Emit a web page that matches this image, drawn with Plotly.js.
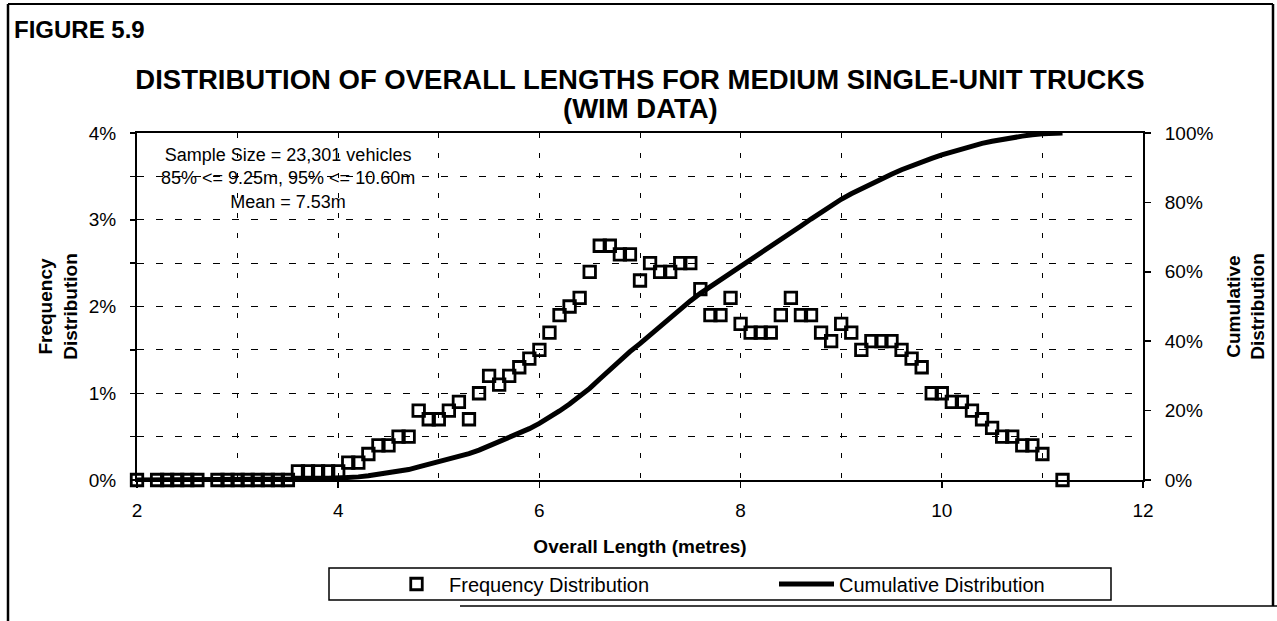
<!DOCTYPE html>
<html>
<head>
<meta charset="utf-8">
<script src="https://cdn.plot.ly/plotly-3.0.1.min.js"></script>
<style>html,body{margin:0;padding:0;background:#fff;}#chart{width:1277px;height:621px;}</style>
</head>
<body>
<div id="chart"></div>
<script>
// ---- data ----
const freqX = [2.0, 2.2, 2.3, 2.4, 2.5, 2.6, 2.8, 2.9, 3.0, 3.1, 3.2, 3.3, 3.4, 3.5,
  3.6, 3.7, 3.8, 3.9, 4.0, 4.1, 4.2, 4.3, 4.4, 4.5, 4.6, 4.7, 4.8, 4.9, 5.0,
  5.1, 5.2, 5.3, 5.4, 5.5, 5.6, 5.7, 5.8, 5.9, 6.0, 6.1, 6.2, 6.3, 6.4, 6.5,
  6.6, 6.7, 6.8, 6.9, 7.0, 7.1, 7.2, 7.3, 7.4, 7.5, 7.6, 7.7, 7.8, 7.9, 8.0,
  8.1, 8.2, 8.3, 8.4, 8.5, 8.6, 8.7, 8.8, 8.9, 9.0, 9.1, 9.2, 9.3, 9.4, 9.5,
  9.6, 9.7, 9.8, 9.9, 10.0, 10.1, 10.2, 10.3, 10.4, 10.5, 10.6, 10.7, 10.8, 10.9,
  11.0, 11.2];
const freqPct = [0, 0, 0, 0, 0, 0, 0, 0, 0, 0, 0, 0, 0, 0,
  0.1, 0.1, 0.1, 0.1, 0.1, 0.2, 0.2, 0.3, 0.4, 0.4, 0.5, 0.5, 0.8, 0.7, 0.7,
  0.8, 0.9, 0.7, 1.0, 1.2, 1.1, 1.2, 1.3, 1.4, 1.5, 1.7, 1.9, 2.0, 2.1, 2.4,
  2.7, 2.7, 2.6, 2.6, 2.3, 2.5, 2.4, 2.4, 2.5, 2.5, 2.2, 1.9, 1.9, 2.1, 1.8,
  1.7, 1.7, 1.7, 1.9, 2.1, 1.9, 1.9, 1.7, 1.6, 1.8, 1.7, 1.5, 1.6, 1.6, 1.6,
  1.5, 1.4, 1.3, 1.0, 1.0, 0.9, 0.9, 0.8, 0.7, 0.6, 0.5, 0.5, 0.4, 0.4,
  0.3, 0.0];

const cumX = [2.0, 3.5,
  3.6, 3.7, 3.8, 3.9, 4.0, 4.1, 4.2, 4.3, 4.4, 4.5, 4.6, 4.7, 4.8, 4.9, 5.0,
  5.1, 5.2, 5.3, 5.4, 5.5, 5.6, 5.7, 5.8, 5.9, 6.0, 6.1, 6.2, 6.3, 6.4, 6.5,
  6.6, 6.7, 6.8, 6.9, 7.0, 7.1, 7.2, 7.3, 7.4, 7.5, 7.6, 7.7, 7.8, 7.9, 8.0,
  8.1, 8.2, 8.3, 8.4, 8.5, 8.6, 8.7, 8.8, 8.9, 9.0, 9.1, 9.2, 9.3, 9.4, 9.5,
  9.6, 9.7, 9.8, 9.9, 10.0, 10.1, 10.2, 10.3, 10.4, 10.5, 10.6, 10.7, 10.8, 10.9,
  11.0, 11.2];
const cumPct = [0, 0,
  0.1, 0.2, 0.3, 0.4, 0.5, 0.7, 0.9, 1.2, 1.6, 2.0, 2.5, 3.0, 3.8, 4.5, 5.2,
  6.0, 6.9, 7.6, 8.6, 9.8, 10.9, 12.1, 13.4, 14.8, 16.3, 18.0, 19.9, 21.9, 24.0, 26.4,
  29.1, 31.8, 34.4, 37.0, 39.3, 41.8, 44.2, 46.6, 49.1, 51.6, 53.8, 55.7, 57.6, 59.6, 61.5,
  63.4, 65.3, 67.2, 69.2, 71.2, 73.2, 75.2, 77.2, 79.1, 80.9, 82.5, 84.0, 85.4, 86.8, 88.1,
  89.4, 90.6, 91.7, 92.7, 93.7, 94.6, 95.5, 96.3, 97.0, 97.6, 98.2, 98.7, 99.1, 99.5,
  99.8, 100];

const seriesNames = ['Frequency Distribution', 'Cumulative Distribution'];
const figureLabel = 'FIGURE 5.9';
const chartTitle = 'DISTRIBUTION OF OVERALL LENGTHS FOR MEDIUM SINGLE-UNIT TRUCKS';
const chartSubtitle = '(WIM DATA)';
const statsText = 'Sample Size = 23,301 vehicles<br>85% &lt;= 9.25m, 95% &lt;= 10.60m<br>Mean = 7.53m';

// ---- layout geometry ----
const W = 1277, H = 621;
const M = {l: 137, r: 134, t: 133, b: 141};
const PW = W - M.l - M.r, PH = H - M.t - M.b;
const px = X => (X - M.l) / PW;          // pixel x -> paper x
const py = Y => (H - M.b - Y) / PH;      // pixel y -> paper y

const FONT = 'Liberation Sans, Arial, Helvetica, sans-serif';

const traces = [
  {
    x: freqX, y: freqPct, type: 'scatter', mode: 'markers', name: seriesNames[0],
    yaxis: 'y', cliponaxis: false,
    marker: {symbol: 'square-open', size: 11.5, color: '#000', line: {color: '#000', width: 2.8}}
  },
  {
    x: cumX, y: cumPct, type: 'scatter', mode: 'lines', name: seriesNames[1],
    yaxis: 'y2', cliponaxis: false,
    line: {color: '#000', width: 5}
  }
];

const gridDashX = '5px,15px';
const gridDashY = '7px,12px';

const layout = {
  width: W, height: H,
  margin: M,
  paper_bgcolor: '#fff', plot_bgcolor: '#fff',
  font: {family: FONT, color: '#000', size: 19},
  showlegend: true,
  title: {
    text: chartTitle,
    font: {family: FONT, size: 27.5, weight: 'bold', color: '#000'},
    xref: 'paper', x: 0.5, xanchor: 'center',
    yref: 'container', y: 1 - 79 / H, yanchor: 'middle'
  },
  xaxis: {
    range: [2, 12], tick0: 2, dtick: 2,
    showgrid: true, gridcolor: '#000', gridwidth: 1, griddash: gridDashX,
    minor: {dtick: 1, showgrid: true, gridcolor: '#000', gridwidth: 1, griddash: gridDashX},
    showline: true, linecolor: '#000', linewidth: 2, mirror: true,
    ticks: 'outside', ticklen: 6, tickwidth: 1.5, tickcolor: '#000',
    ticklabelstandoff: 6,
    zeroline: false,
    tickfont: {size: 19},
    title: {text: 'Overall Length (metres)', font: {size: 19, weight: 'bold'}, standoff: 20}
  },
  yaxis: {
    range: [0, 4], tick0: 0, dtick: 1, ticksuffix: '%',
    showgrid: true, gridcolor: '#000', gridwidth: 1, griddash: gridDashY,
    minor: {dtick: 0.5, showgrid: true, gridcolor: '#000', gridwidth: 1, griddash: gridDashY,
            ticks: 'outside', ticklen: 5, tickcolor: '#000', tickwidth: 1.5},
    showline: true, linecolor: '#000', linewidth: 2,
    ticks: 'outside', ticklen: 5, tickwidth: 1.5, tickcolor: '#000',
    ticklabelstandoff: 10,
    zeroline: false,
    tickfont: {size: 19},
    title: {text: 'Frequency<br>Distribution', font: {size: 19, weight: 'bold'}, standoff: 6}
  },
  yaxis2: {
    overlaying: 'y', side: 'right',
    range: [0, 100], tick0: 0, dtick: 20, ticksuffix: '%',
    showgrid: false, zeroline: false,
    showline: true, linecolor: '#000', linewidth: 2,
    ticks: 'outside', ticklen: 6, tickwidth: 1.5, tickcolor: '#000',
    ticklabelstandoff: 10,
    tickfont: {size: 19},
    title: {text: 'Cumulative<br>Distribution', font: {size: 19, weight: 'bold'}, standoff: 14}
  },
  legend: {
    orientation: 'h',
    x: px(384), xanchor: 'left', xref: 'paper',
    y: py(584), yanchor: 'middle', yref: 'paper',
    bgcolor: 'rgba(0,0,0,0)', borderwidth: 0,
    font: {size: 20},
    itemwidth: 55,
    entrywidth: 320, entrywidthmode: 'pixels',
    traceorder: 'normal'
  },
  annotations: [
    {
      text: figureLabel, showarrow: false,
      xref: 'paper', x: px(12), xanchor: 'left',
      yref: 'paper', y: py(30), yanchor: 'middle',
      font: {size: 24, weight: 'bold'}
    },
    {
      text: chartSubtitle, showarrow: false,
      xref: 'paper', x: 0.5, xanchor: 'center',
      yref: 'paper', y: py(109), yanchor: 'middle',
      font: {size: 27.5, weight: 'bold'}
    },
    {
      text: statsText, showarrow: false, align: 'center',
      xref: 'x', x: 3.5, xanchor: 'center',
      yref: 'y', y: 3.48, yanchor: 'middle',
      font: {size: 18}
    }
  ],
  shapes: [
    // legend box
    {type: 'rect', xref: 'paper', yref: 'paper', x0: px(329), x1: px(1111), y0: py(600), y1: py(568),
     line: {color: '#000', width: 1.5}, fillcolor: 'rgba(0,0,0,0)'},
    // outer frame of the figure
    {type: 'line', xref: 'paper', yref: 'paper', x0: px(8), x1: px(8), y0: py(4), y1: py(621), line: {color: '#000', width: 2.5}},
    {type: 'line', xref: 'paper', yref: 'paper', x0: px(8), x1: px(1273), y0: py(4), y1: py(4), line: {color: '#000', width: 2}},
    {type: 'line', xref: 'paper', yref: 'paper', x0: px(1273), x1: px(1273), y0: py(4), y1: py(606), line: {color: '#000', width: 2.5}},
    {type: 'line', xref: 'paper', yref: 'paper', x0: px(460), x1: px(1277), y0: py(606), y1: py(606), line: {color: '#000', width: 1.5}}
  ]
};

Plotly.newPlot('chart', traces, layout, {displayModeBar: false, staticPlot: true});
</script>
</body>
</html>
